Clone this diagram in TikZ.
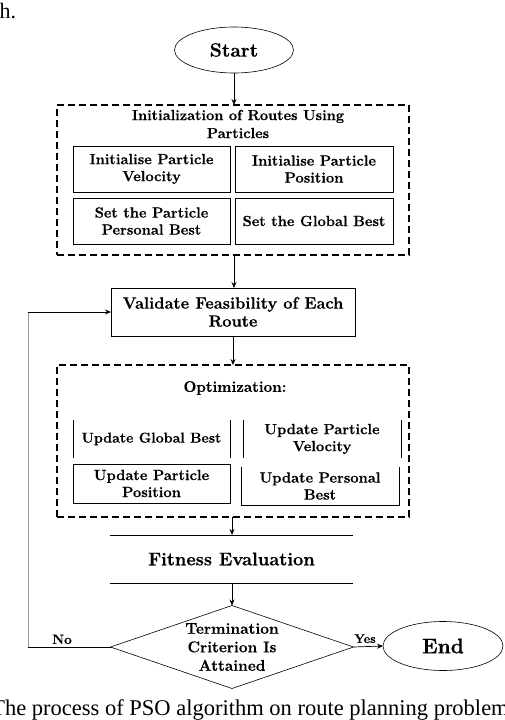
\documentclass[tikz,border=0pt]{standalone}
\usepackage{fontspec}
\setmainfont{Latin Modern Roman}[BoldFeatures={FakeBold=0.6}]
\usetikzlibrary{shapes.geometric,arrows.meta}
\newfontfamily\capfont{Liberation Serif}
\begin{document}
\begin{tikzpicture}[x=1pt,y=-1pt,
  every node/.style={inner sep=0pt, outer sep=0pt},
  bfont/.style={font=\bfseries\fontsize{14.7}{17}\selectfont},
  term/.style={ellipse, draw, line width=0.6pt, font=\bfseries\fontsize{19.3}{20}\selectfont},
  dbox/.style={draw, line width=1.8pt, dash pattern=on 7pt off 4pt},
  ibox/.style={draw, line width=0.8pt, align=center, bfont},
  plain/.style={align=center, bfont},
  arr/.style={-{Stealth[length=6pt,width=5pt]}, line width=0.7pt},
  thinline/.style={line width=0.8pt},
  fbline/.style={line width=1pt, color=black!40}
]
\useasboundingbox (0,0) rectangle (504,720);
% fragments of surrounding page text
\node[anchor=base west, font=\capfont\fontsize{22}{24}\selectfont] (hdot) at (-0.5,18) {h.};
\node[anchor=base, font=\capfont\fontsize{22.5}{24}\selectfont] (caption) at (250,715) {The process of PSO algorithm on route planning problem};

% start
\node[term, minimum width=119pt, minimum height=46pt] (start) at (234,50) {Start};

% initialization block
\node[dbox, minimum width=352pt, minimum height=150pt] (init) at (233,180) {};
\node[plain, font=\bfseries\fontsize{14.6}{18}\selectfont] (inittitle) at (238,124) {Initialization of Routes Using\\Particles};
\node[ibox, minimum width=157pt, minimum height=46pt] (b1) at (151.5,169) {Initialise Particle\\Velocity};
\node[ibox, minimum width=158pt, minimum height=46pt] (b2) at (314,169) {Initialise Particle\\Position};
\node[ibox, minimum width=157pt, minimum height=46pt] (b3) at (151.5,221) {Set the Particle\\Personal Best};
\node[ibox, minimum width=158pt, minimum height=46pt] (b4) at (314,221) {Set the Global Best};

% validate
\node[ibox, font=\bfseries\fontsize{16.4}{18}\selectfont, minimum width=244pt, minimum height=48pt] (validate) at (233,312) {Validate Feasibility of Each\\Route};

% optimization block
\node[dbox, minimum width=352pt, minimum height=152pt] (opt) at (233,441) {};
\node[plain, font=\bfseries\fontsize{15.2}{18}\selectfont] (opttitle) at (235,388) {Optimization:};
\node[plain, minimum width=157pt, minimum height=38pt, font=\bfseries\fontsize{14.2}{17}\selectfont] (u1) at (151.5,439) {Update Global Best};
\node[plain, minimum width=158pt, minimum height=38pt] (u2) at (322,439) {Update Particle\\Velocity};
\node[ibox, minimum width=157pt, minimum height=39pt] (u3) at (151.5,483.5) {Update Particle\\Position};
\node[plain, minimum width=158pt, minimum height=38pt] (u4) at (320,486) {Update Personal\\Best};
\draw[thinline] (u1.north west) -- (u1.south west);
\draw[thinline] (u1.north east) -- (u1.south east);
\draw[thinline] (u2.north west) -- (u2.south west);
\draw[thinline] (u2.north east) -- (u2.south east);
\draw[thinline] (u4.north west) -- (u4.south west) -- (u4.south east) -- (u4.north east);

% fitness
\node[plain, font=\bfseries\fontsize{18.3}{20}\selectfont, minimum width=243pt, minimum height=48pt] (fit) at (231.5,559) {Fitness Evaluation};
\draw[thinline] (fit.north west) -- (fit.north east);
\draw[thinline] (fit.south west) -- (fit.south east);

% decision
\node[diamond, draw, line width=0.6pt, shape aspect=2.93, minimum width=243pt, minimum height=83pt, align=center, font=\bfseries\fontsize{15.5}{18.5}\selectfont] (dia) at (232,647) {Termination\\Criterion Is\\Attained};

% end
\node[term, minimum width=120pt, minimum height=49pt, font=\bfseries\fontsize{21}{22}\selectfont] (end) at (443,646) {End};

% connectors
\draw[arr] (start.south) -- (start.south |- init.north);
\draw[arr] (init.south -| start) -- (start |- validate.north);
\draw[arr] (validate.south) -- (opt.north);
\draw[arr] (opt.south -| dia) -- (dia |- fit.north);
\draw[arr] (dia |- fit.south) -- (dia.north);
\draw[arr] (dia.east) -- (end.west);
\node[anchor=south, font=\bfseries\fontsize{12.5}{14}\selectfont] (yes) at (365,643) {Yes};

\coordinate (fbl) at (28,647);
\coordinate (fbt) at (28,312);
\draw[line width=1pt] (dia.west) -- (fbl);
\draw[fbline] (fbl) -- (fbt);
\draw[arr, line width=1pt] (fbt) -- (validate.west);
\node[anchor=south, font=\bfseries\fontsize{13.5}{15}\selectfont] (no) at (62,644) {No};
\end{tikzpicture}
\end{document}
